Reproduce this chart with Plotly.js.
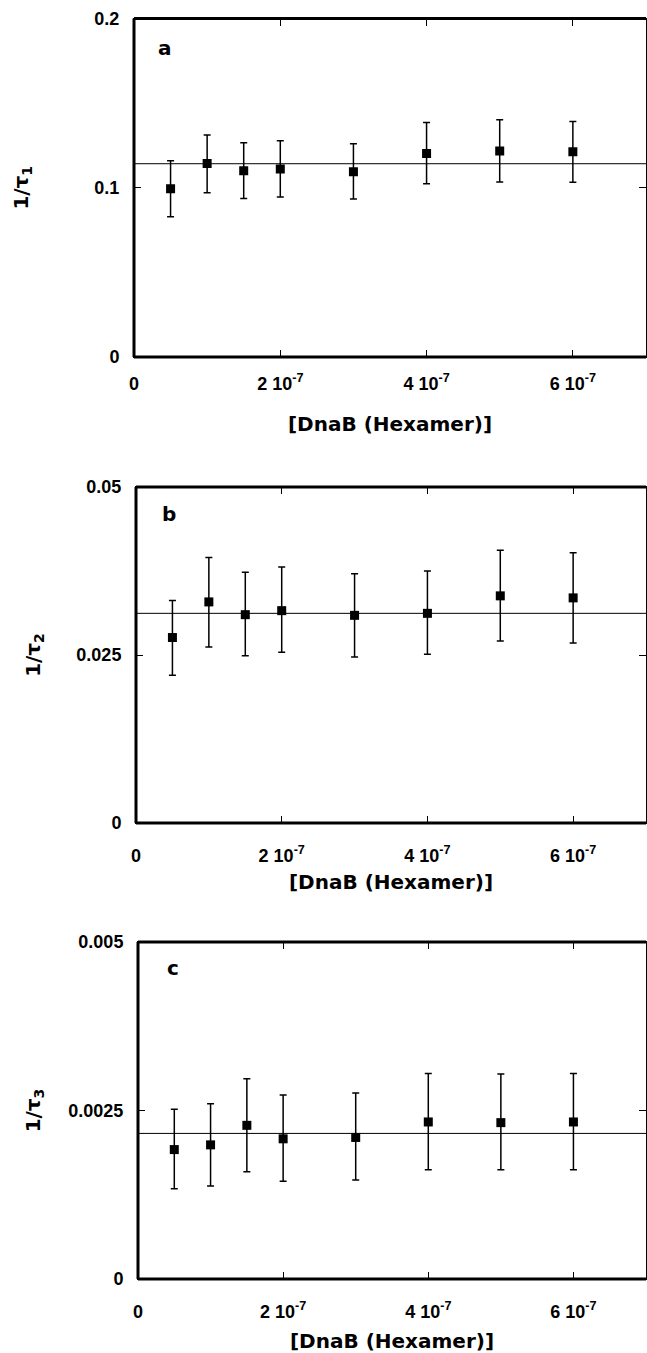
<!DOCTYPE html>
<html><head><meta charset="utf-8">
<script src="https://cdn.plot.ly/plotly-3.0.1.min.js"></script>
<style>html,body{margin:0;padding:0;background:#fff}</style>
</head><body><div id="chart" style="width:647px;height:1353px"></div>
<script>
// DnaB hexamer concentration (M)
const conc = [0.5e-7, 1e-7, 1.5e-7, 2e-7, 3e-7, 4e-7, 5e-7, 6e-7];

// Panel a: 1/tau1
const rateA     = [0.0994, 0.1144, 0.1101, 0.1111, 0.1095, 0.1203, 0.1217, 0.1213];
const rateAHigh = [0.1160, 0.1312, 0.1266, 0.1278, 0.1260, 0.1385, 0.1402, 0.1391];
const rateALow  = [0.0828, 0.0970, 0.0937, 0.0945, 0.0933, 0.1024, 0.1034, 0.1032];
const fitA = 0.1142;

// Panel b: 1/tau2
const rateB     = [0.0276, 0.0329, 0.0310, 0.0316, 0.0309, 0.0312, 0.0338, 0.0335];
const rateBHigh = [0.0331, 0.0395, 0.0373, 0.0381, 0.0371, 0.0375, 0.0406, 0.0402];
const rateBLow  = [0.0220, 0.0262, 0.0249, 0.0254, 0.0247, 0.0251, 0.0271, 0.0268];
const fitB = 0.0312;

// Panel c: 1/tau3
const rateC     = [0.00192, 0.00199, 0.00228, 0.00208, 0.00210, 0.00233, 0.00232, 0.00233];
const rateCHigh = [0.00252, 0.00260, 0.00297, 0.00273, 0.00276, 0.00305, 0.00304, 0.00305];
const rateCLow  = [0.00134, 0.00138, 0.00159, 0.00145, 0.00147, 0.00162, 0.00162, 0.00162];
const fitC = 0.00216;

const xRange = [0, 7e-7];
const xTickVals = [0, 2e-7, 4e-7, 6e-7];
const xTickText = ['0', '2 10<sup>-7</sup>', '4 10<sup>-7</sup>', '6 10<sup>-7</sup>'];
const yTicksA = [0, 0.1, 0.2],       yTextA = ['0', '0.1', '0.2'];
const yTicksB = [0, 0.025, 0.05],    yTextB = ['0', '0.025', '0.05'];
const yTicksC = [0, 0.0025, 0.005],  yTextC = ['0', '0.0025', '0.005'];
const xTitle = '[DnaB (Hexamer)]';
const yTitles = ['1/τ<sub>1</sub>', '1/τ<sub>2</sub>', '1/τ<sub>3</sub>'];
const panelLabels = ['a', 'b', 'c'];

const tickFont = {family: 'Liberation Sans', size: 18, color: '#000', weight: 700};
const titleFont = {family: 'DejaVu Sans', size: 20, color: '#000', weight: 700};

function diff(a, b) { return a.map((v, i) => v - b[i]); }

function panelTraces(xa, ya, y, hi, lo, fit) {
  return [
    {x: xRange, y: [fit, fit], xaxis: xa, yaxis: ya, mode: 'lines', type: 'scatter',
     line: {color: '#000', width: 1}, hoverinfo: 'skip'},
    {x: conc, y: y, xaxis: xa, yaxis: ya, mode: 'markers', type: 'scatter',
     marker: {symbol: 'square', size: 9, color: '#000'},
     error_y: {type: 'data', symmetric: false, array: diff(hi, y), arrayminus: diff(y, lo),
               color: '#000', thickness: 1.5, width: 3.5}}
  ];
}

const data = [].concat(
  panelTraces('x', 'y', rateA, rateAHigh, rateALow, fitA),
  panelTraces('x2', 'y2', rateB, rateBHigh, rateBLow, fitB),
  panelTraces('x3', 'y3', rateC, rateCHigh, rateCLow, fitC)
);

function xAxis(dom, anchor, labelOff, titleOff) {
  return {domain: dom, anchor: anchor, range: xRange, tickmode: 'array',
    tickvals: xTickVals, ticktext: xTickText, ticks: 'inside', ticklen: 7, tickwidth: 1.3,
    tickcolor: '#000', showline: true, linecolor: '#000', linewidth: 1, mirror: 'ticks',
    showgrid: false, zeroline: false, tickfont: tickFont, ticklabelstandoff: labelOff,
    title: {text: xTitle, font: titleFont, standoff: titleOff}};
}
function yAxis(dom, anchor, tv, tt, title, labelOff, titleOff) {
  return {domain: dom, anchor: anchor, range: [tv[0], tv[2]], tickmode: 'array',
    tickvals: tv, ticktext: tt, ticks: 'inside', ticklen: 7, tickwidth: 1.3,
    tickcolor: '#000', showline: true, linecolor: '#000', linewidth: 1, mirror: 'ticks',
    showgrid: false, zeroline: false, tickfont: tickFont, ticklabelstandoff: labelOff,
    title: {text: title, font: titleFont, standoff: titleOff}};
}

const dA = {x: [134/647, 646/647], y: [1 - 357/1353, 1 - 18.5/1353]};
const dB = {x: [136/647, 646/647], y: [1 - 823/1353, 1 - 487/1353]};
const dC = {x: [138/647, 646/647], y: [1 - 1279/1353, 1 - 942/1353]};

const shapes = [];
[['x', 'y'], ['x2', 'y2'], ['x3', 'y3']].forEach(([xa, ya]) => {
  const xr = xa + ' domain', yr = ya + ' domain';
  shapes.push({type: 'line', xref: xr, yref: yr, x0: 0, x1: 0, y0: 0, y1: 1, line: {color: '#000', width: 3}, layer: 'above'});
  shapes.push({type: 'line', xref: xr, yref: yr, x0: 0, x1: 1, y0: 0, y1: 0, line: {color: '#000', width: 3}, layer: 'above'});
  shapes.push({type: 'line', xref: xr, yref: yr, x0: 0, x1: 1, y0: 1, y1: 1, line: {color: '#000', width: 3}, layer: 'above'});
});

const labelPos = [[156/647, 1 - 48/1353], [160/647, 1 - 514/1353], [165/647, 1 - 968/1353]];
const annotations = panelLabels.map((t, i) => ({
  text: t, xref: 'paper', yref: 'paper', x: labelPos[i][0], y: labelPos[i][1],
  xanchor: 'left', yanchor: 'middle', showarrow: false, font: titleFont
}));

const layout = {
  width: 647, height: 1353, margin: {l: 0, r: 0, t: 0, b: 0},
  paper_bgcolor: '#fff', plot_bgcolor: '#fff', showlegend: false,
  xaxis: xAxis(dA.x, 'y', 10, 24),
  yaxis: yAxis(dA.y, 'x', yTicksA, yTextA, yTitles[0], 10, 60),
  xaxis2: xAxis(dB.x, 'y2', 16, 10),
  yaxis2: yAxis(dB.y, 'x2', yTicksB, yTextB, yTitles[1], 10, 30),
  xaxis3: xAxis(dC.x, 'y3', 16, 14),
  yaxis3: yAxis(dC.y, 'x3', yTicksC, yTextC, yTitles[2], 10, 22),
  shapes: shapes, annotations: annotations
};

Plotly.newPlot('chart', data, layout, {displayModeBar: false});
</script></body></html>
